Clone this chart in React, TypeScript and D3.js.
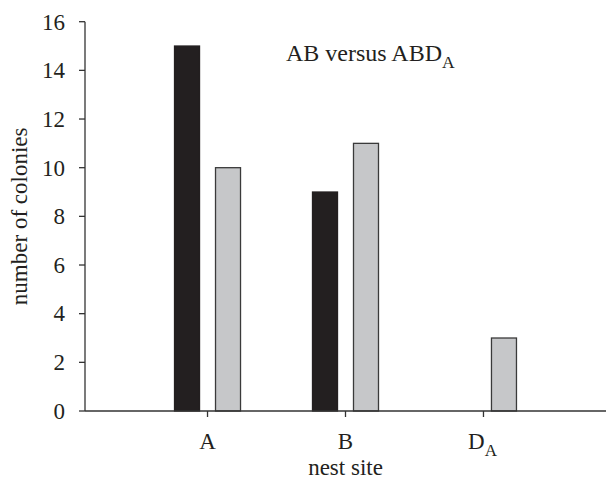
import React from 'react';
import * as d3 from 'd3';

const categories = ['A', 'B', 'DA'];
const seriesNames = ['AB', 'ABDA'];
const seriesAB = [15, 9, 0];
const seriesABDA = [10, 11, 3];
const yTicks = [0, 2, 4, 6, 8, 10, 12, 14, 16];

const W = 609;
const H = 479;
const FONT = '"Liberation Serif", "Times New Roman", serif';

const Label: React.FC<{ name: string; x: number; y: number }> = ({ name, x, y }) => {
  // D_A gets a subscript, the rest are plain
  if (name === 'DA') {
    return (
      <text x={x} y={y} textAnchor="middle" fontSize={23} fill="#231f20" fontFamily={FONT}>
        D<tspan fontSize={17} dy={7}>A</tspan>
      </text>
    );
  }
  return (
    <text x={x} y={y} textAnchor="middle" fontSize={23} fill="#231f20" fontFamily={FONT}>{name}</text>
  );
};

export default function App() {
  const margin = { left: 85, right: 3, top: 21.7, bottom: 68 };
  const x = d3.scalePoint<string>()
    .domain(categories)
    .range([margin.left, W - margin.right])
    .padding(0.888);
  const inner = d3.scaleBand<string>()
    .domain(seriesNames)
    .range([-33, 33])
    .paddingInner(0.39);
  const y = d3.scaleLinear().domain([0, 16]).range([411, margin.top]);

  const series = [
    { name: 'AB', values: seriesAB, fill: '#231f20' },
    { name: 'ABDA', values: seriesABDA, fill: '#c6c7c9' },
  ];

  const axisColor = '#333';

  return (
    <svg width={W} height={H} style={{ position: 'absolute', left: 0, top: 0 }} fontFamily={FONT}>
      <rect width={W} height={H} fill="#fff" />

      {series.map((s) =>
        s.values.map((v, i) =>
          v > 0 ? (
            <rect
              key={s.name + i}
              x={(x(categories[i]) ?? 0) + (inner(s.name) ?? 0)}
              y={y(v)}
              width={inner.bandwidth()}
              height={y(0) - y(v)}
              fill={s.fill}
              stroke={s.name === 'AB' ? '#231f20' : '#3a3a3a'}
              strokeWidth={1.3}
            />
          ) : null
        )
      )}

      {/* y axis */}
      <line x1={margin.left} x2={margin.left} y1={y(16)} y2={y(0)} stroke={axisColor} strokeWidth={1.3} />
      {yTicks.map((t) => (
        <g key={t}>
          <line x1={margin.left - 6} x2={margin.left} y1={y(t)} y2={y(t)} stroke={axisColor} strokeWidth={1.3} />
          <text x={65} y={y(t)} dy="0.34em" textAnchor="end" fontSize={23} fill="#231f20">{t}</text>
        </g>
      ))}

      {/* x axis */}
      <line x1={margin.left} x2={W - margin.right} y1={y(0)} y2={y(0)} stroke={axisColor} strokeWidth={1.3} />
      {categories.map((c) => (
        <g key={c}>
          <line x1={x(c)} x2={x(c)} y1={y(0)} y2={y(0) + 6} stroke={axisColor} strokeWidth={1.3} />
          <Label name={c} x={(x(c) ?? 0) + (c === 'DA' ? -1 : 0)} y={449} />
        </g>
      ))}

      <text x={(margin.left + W - margin.right) / 2} y={475} textAnchor="middle" fontSize={23} fill="#231f20">
        nest site
      </text>
      <text
        transform={`translate(27,${(y(0) + y(16)) / 2}) rotate(-90)`}
        textAnchor="middle"
        fontSize={23}
        fill="#231f20"
      >
        number of colonies
      </text>

      <text x={286} y={61} fontSize={24} fill="#231f20">
        AB versus ABD<tspan fontSize={17.5} dy={7}>A</tspan>
      </text>
    </svg>
  );
}
